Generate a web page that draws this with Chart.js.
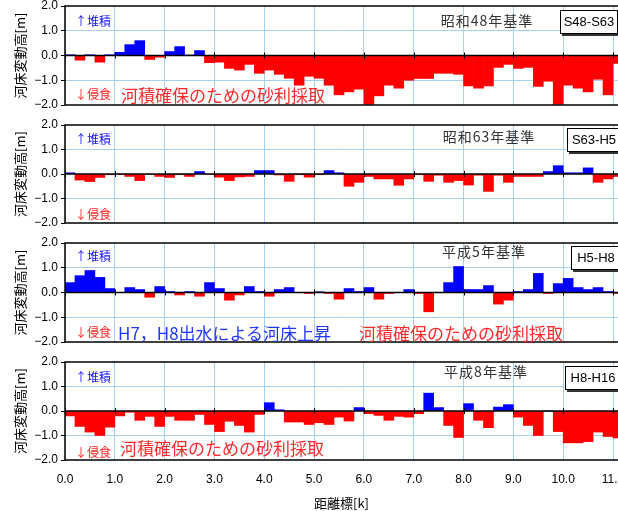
<!DOCTYPE html>
<html lang="ja">
<head>
<meta charset="utf-8">
<title>河床変動高</title>
<script src="https://cdn.jsdelivr.net/npm/chart.js@4.4.0/dist/chart.umd.min.js"></script>
<style>
  html, body { margin: 0; padding: 0; background: #fff; }
  #wrap { position: relative; width: 618px; height: 511px; overflow: hidden;
          font-family: "Noto Sans CJK JP", sans-serif; }
  canvas { position: absolute; left: 0; }
  .t { position: absolute; white-space: nowrap; line-height: 20px; height: 20px; }
  .up { color: #1414ff; font-size: 12px; }
  .down { color: #ff2424; font-size: 12px; }
  .red { color: #ff2a2a; font-size: 17px; }
  .blue { color: #2036ff; font-size: 17px; }
  .base { color: #333; font-size: 14px; letter-spacing: 1px; transform: translateX(-50%); }
  .box { position: absolute; background: #fff; border: 1px solid #000; box-shadow: 2px 2px 0 #333;
         font: 13px "Liberation Sans", Arial, sans-serif; text-align: center; height: 22px; line-height: 22px; }
</style>
</head>
<body>
<div id="wrap"></div>
<script>
// distance marker [km] (bar centres, 200 m sections)
const distanceKm = [
  0.1, 0.3, 0.5, 0.7, 0.9, 1.1, 1.3, 1.5, 1.7, 1.9,
  2.1, 2.3, 2.5, 2.7, 2.9, 3.1, 3.3, 3.5, 3.7, 3.9,
  4.1, 4.3, 4.5, 4.7, 4.9, 5.1, 5.3, 5.5, 5.7, 5.9,
  6.1, 6.3, 6.5, 6.7, 6.9, 7.1, 7.3, 7.5, 7.7, 7.9,
  8.1, 8.3, 8.5, 8.7, 8.9, 9.1, 9.3, 9.5, 9.7, 9.9,
  10.1, 10.3, 10.5, 10.7, 10.9, 11.1
];

// riverbed change [m]
const s48s63 = [
  0.03, -0.19, 0.03, -0.27, 0.03, 0.13, 0.44, 0.6, -0.16, -0.07,
  0.16, 0.36, 0.02, 0.2, -0.29, -0.27, -0.52, -0.59, -0.36, -0.72,
  -0.59, -0.76, -0.92, -1.2, -0.84, -0.92, -1.2, -1.59, -1.47, -1.36,
  -1.97, -1.63, -1.2, -1.32, -1.0, -0.93, -0.93, -0.72, -0.72, -0.76,
  -1.23, -1.32, -1.23, -0.48, -0.36, -0.52, -0.48, -1.25, -1.04, -1.97,
  -1.2, -1.32, -1.47, -0.96, -1.59, -0.32
];
const s63h5 = [
  0.05, -0.25, -0.31, -0.14, -0.03, -0.02, -0.1, -0.27, -0.02, -0.1,
  -0.14, -0.03, -0.1, 0.1, -0.02, -0.13, -0.27, -0.12, -0.1, 0.14,
  0.14, -0.04, -0.3, -0.03, -0.13, -0.03, 0.14, 0.05, -0.5, -0.34,
  -0.1, -0.2, -0.2, -0.46, -0.2, -0.03, -0.3, -0.05, -0.34, -0.27,
  -0.45, -0.05, -0.71, -0.05, -0.34, -0.1, -0.1, -0.1, 0.1, 0.34,
  0.05, 0.05, 0.25, -0.34, -0.2, -0.1
];
const h5h8 = [
  0.4, 0.68, 0.89, 0.61, 0.16, 0, 0.2, 0.12, -0.19, 0.24,
  0.04, -0.1, 0.04, -0.15, 0.4, 0.16, -0.31, -0.1, 0.24, 0.04,
  -0.15, 0.12, 0.2, 0, -0.04, 0.03, -0.04, -0.27, 0.16, 0.04,
  0.2, -0.27, -0.04, 0, 0.12, -0.04, -0.78, 0, 0.4, 1.05,
  0.12, 0.12, 0.28, -0.47, -0.31, 0.04, 0.12, 0.77, -0.04, 0.36,
  0.57, 0.2, 0.12, 0.2, 0.04, -0.04
];
const h8h16 = [
  -0.2, -0.63, -0.86, -1.0, -0.66, -0.2, -0.05, -0.38, -0.22, -0.63,
  -0.22, -0.38, -0.38, -0.14, -0.55, -0.84, -0.42, -0.59, -0.86, -0.14,
  0.34, 0.05, -0.45, -0.45, -0.55, -0.48, -0.55, -0.25, -0.41, 0.14,
  -0.11, -0.18, -0.38, -0.22, -0.25, -0.11, 0.73, 0.14, -0.59, -1.08,
  0.3, -0.38, -0.68, 0.16, 0.26, -0.25, -0.59, -1.0, 0, -0.84,
  -1.3, -1.3, -1.25, -0.86, -1.04, -1.1
];

const periods = ['S48-S63', 'S63-H5', 'H5-H8', 'H8-H16'];
const baseYears = ['昭和48年基準', '昭和63年基準', '平成5年基準', '平成8年基準'];
const series = [s48s63, s63h5, h5h8, h8h16];

const GRID = '#a8d0f5';
const wrap = document.getElementById('wrap');

Chart.defaults.font.family = '"Noto Sans CJK JP", "Liberation Sans", sans-serif';
Chart.defaults.font.size = 12;
Chart.defaults.color = '#000';

// frame, zero line and small ticks on the zero line
const frame = {
  id: 'frame',
  afterDatasetsDraw(chart) {
    const { ctx, chartArea: a, scales: { x, y } } = chart;
    const y0 = y.getPixelForValue(0);
    ctx.save();
    ctx.strokeStyle = '#000';
    ctx.lineWidth = 1.5;
    ctx.beginPath();
    ctx.moveTo(a.left, y0);
    ctx.lineTo(a.right, y0);
    ctx.stroke();
    ctx.lineWidth = 1;
    ctx.beginPath();
    x.ticks.forEach(t => {
      const px = Math.round(x.getPixelForValue(t.value)) + 0.5;
      ctx.moveTo(px, y0 - 3);
      ctx.lineTo(px, y0 + 3);
    });
    ctx.stroke();
    ctx.lineWidth = 1.5;
    ctx.strokeRect(a.left, a.top, a.width + 4, a.height);
    ctx.restore();
  }
};

const fmt = v => (v < 0 ? '\u2212' : '') + Math.abs(v).toFixed(1);

// panel placement (plot area top / bottom in px)
const panelTop = [6, 125, 243, 362];
const panelBottom = [105, 223, 342, 460];

series.forEach((values, i) => {
  const isLast = i === series.length - 1;
  const pad = 8;
  const top = panelTop[i] - pad;
  const h = isLast ? 511 - top : (panelBottom[i] - panelTop[i]) + pad * 2;
  const canvas = document.createElement('canvas');
  canvas.width = 618;
  canvas.height = h;
  canvas.style.top = top + 'px';
  wrap.appendChild(canvas);

  new Chart(canvas, {
    type: 'bar',
    data: {
      datasets: [{
        data: distanceKm.map((x, k) => ({ x: x, y: values[k] })),
        backgroundColor: c => (c.raw && c.raw.y < 0) ? '#ff0000' : '#0000ff',
        borderWidth: 0,
        barPercentage: 1,
        categoryPercentage: 1
      }]
    },
    options: {
      responsive: false,
      animation: false,
      layout: { padding: { top: pad, bottom: isLast ? 0 : pad, left: 0, right: 0 } },
      plugins: { legend: { display: false }, tooltip: { enabled: false } },
      scales: {
        x: {
          type: 'linear', min: 0, max: 11.1, offset: false,
          grid: { offset: false, color: GRID, drawTicks: false },
          border: { display: false },
          ticks: {
            display: isLast, stepSize: 1, includeBounds: false, autoSkip: false,
            maxRotation: 0, padding: 12,
            font: { family: '"Liberation Sans", Arial, sans-serif', size: 12 },
            callback: v => v.toFixed(1)
          },
          title: { display: isLast, text: '距離標[k]', font: { size: 13 }, padding: { top: 0, bottom: 0 } },
          afterFit: s => { s.paddingLeft = 0; s.paddingRight = 0; s.height = isLast ? 51 : 0; }
        },
        y: {
          min: -2, max: 2,
          grid: {
            color: c => (c.tick && Math.abs(c.tick.value) === 1) ? GRID : 'rgba(0,0,0,0)',
            tickColor: '#000', tickLength: 4
          },
          border: { display: false },
          ticks: {
            stepSize: 1, padding: 3,
            font: { family: '"Liberation Sans", Arial, sans-serif', size: 12 },
            callback: v => fmt(v)
          },
          title: { display: true, text: '河床変動高[m]', font: { size: 13 }, padding: { top: 12, bottom: 0 } },
          afterFit: s => { s.width = 65; s.paddingTop = 0; s.paddingBottom = 0; }
        }
      }
    },
    plugins: [frame]
  });
});

// annotations
function addText(cls, text, left, cy) {
  const d = document.createElement('div');
  d.className = 't ' + cls;
  d.textContent = text;
  d.style.left = left + 'px';
  d.style.top = (cy - 10) + 'px';
  wrap.appendChild(d);
}
function addBox(text, left, top, width) {
  const d = document.createElement('div');
  d.className = 'box';
  d.textContent = text;
  d.style.left = left + 'px';
  d.style.top = top + 'px';
  d.style.width = width + 'px';
  wrap.appendChild(d);
}

const upY = [21, 139, 256, 377];
const downY = [94, 214, 332, 452];
const baseX = [487, 489, 484, 486];
const baseY = [20, 136, 251, 371];
const boxLeft = [560, 567, 571, 565];
const boxTop = [10, 128, 246, 366];
const boxWidth = [56, 52, 48, 54];

series.forEach((v, i) => {
  addText('up', '↑堆積', 75, upY[i]);
  addText('down', '↓侵食', 75, downY[i]);
  addText('base', baseYears[i], baseX[i], baseY[i]);
  addBox(periods[i], boxLeft[i], boxTop[i], boxWidth[i]);
});
addText('red', '河積確保のための砂利採取', 121, 95);
addText('blue', 'H7，H8出水による河床上昇', 118, 333);
addText('red', '河積確保のための砂利採取', 359, 333);
addText('red', '河積確保のための砂利採取', 120, 448);
</script>
</body>
</html>
